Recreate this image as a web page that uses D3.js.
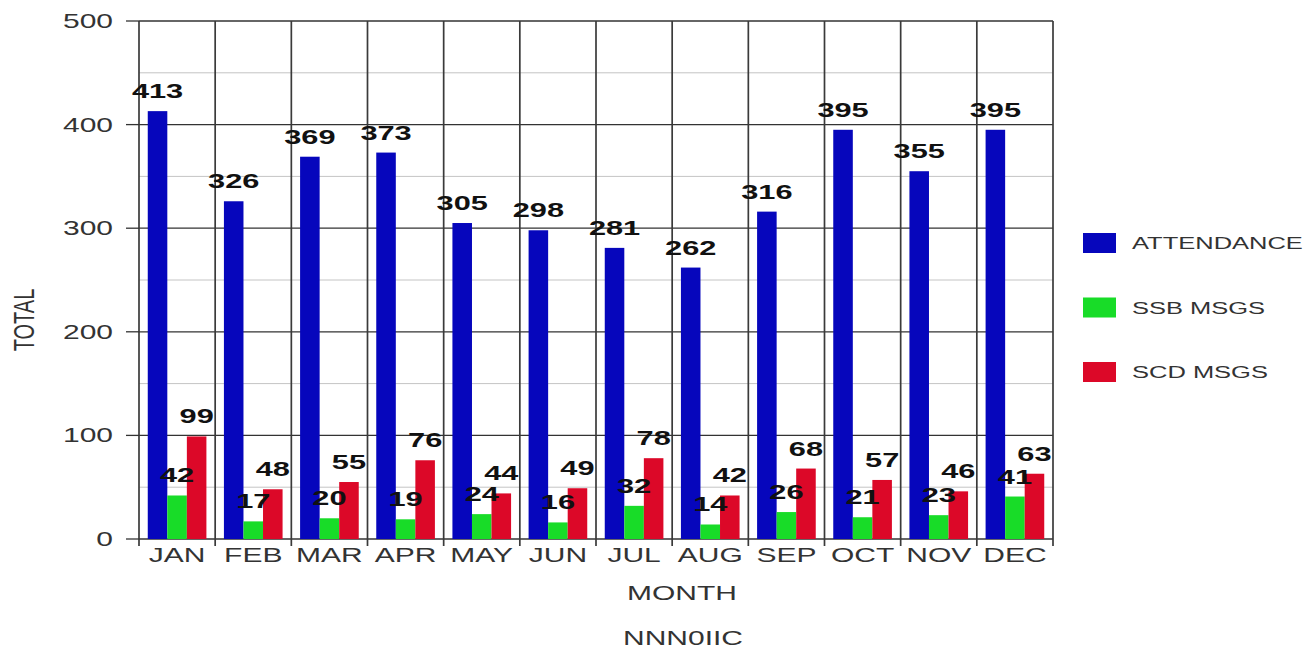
<!DOCTYPE html>
<html>
<head>
<meta charset="utf-8">
<script src="https://cdn.jsdelivr.net/npm/d3@7"></script>
<style>
  html, body { margin: 0; padding: 0; background: #fff; }
  svg { display: block; font-family: "Liberation Sans", Arial, sans-serif; }
</style>
</head>
<body>
<svg id="chart" width="1312" height="650"></svg>
<script>
const months = ["JAN","FEB","MAR","APR","MAY","JUN","JUL","AUG","SEP","OCT","NOV","DEC"];
const seriesNames = ["ATTENDANCE","SSB MSGS","SCD MSGS"];
const attendance = [413,326,369,373,305,298,281,262,316,395,355,395];
const ssbMsgs = [42,17,20,19,24,16,32,14,26,21,23,41];
const scdMsgs = [99,48,55,76,44,49,78,42,68,57,46,63];
const seriesColors = ["#0606bc","#18dc28","#dc0828"];
const yTicks = [0,100,200,300,400,500];
const minorTicks = [50,150,250,350,450];
const xTitle = "MONTH";
const yTitle = "TOTAL";
const caption = "NNN0IIC";

const seriesValues = [attendance, ssbMsgs, scdMsgs];
const SX = 1.5; // horizontal stretch of the original image

const svg = d3.select("#chart");
const pLeft = 139, pRight = 1053, pTop = 21, pBottom = 539;

const x = d3.scaleBand().domain(months).range([pLeft, pRight]).padding(0);
const bw = x.bandwidth();
const x1 = d3.scaleBand().domain(seriesNames).range([bw * 0.115, bw * 0.885]).padding(0);
const y = d3.scaleLinear().domain([0, 500]).range([pBottom, pTop]);

function stext(g, tx, ty, str, opts) {
  const t = g.append("text")
    .attr("transform", `translate(${tx},${ty}) scale(${SX},1)` + (opts.rotate ? ` rotate(${opts.rotate})` : ""))
    .attr("text-anchor", opts.anchor || "middle")
    .attr("font-size", opts.size || 20)
    .attr("font-weight", opts.weight || "normal")
    .attr("fill", opts.fill || "#333")
    .text(str);
  return t;
}

// minor gridlines
svg.append("g").selectAll("line").data(minorTicks).join("line")
  .attr("x1", pLeft).attr("x2", pRight)
  .attr("y1", d => y(d)).attr("y2", d => y(d))
  .attr("stroke", "#c4c4c4").attr("stroke-width", 1);

// major gridlines
svg.append("g").selectAll("line").data(yTicks).join("line")
  .attr("x1", pLeft).attr("x2", pRight)
  .attr("y1", d => y(d)).attr("y2", d => y(d))
  .attr("stroke", "#333").attr("stroke-width", 1.3);

// vertical category boundary lines (with ticks below axis)
const bounds = months.map(m => x(m)).concat([pRight]);
svg.append("g").selectAll("line").data(bounds).join("line")
  .attr("x1", d => d).attr("x2", d => d)
  .attr("y1", pTop).attr("y2", pBottom + 7)
  .attr("stroke", "#3a3a3a").attr("stroke-width", 1.7);

// y ticks
svg.append("g").selectAll("line").data(yTicks).join("line")
  .attr("x1", pLeft - 13).attr("x2", pLeft)
  .attr("y1", d => y(d)).attr("y2", d => y(d))
  .attr("stroke", "#333").attr("stroke-width", 1.3);

// bars
const groups = svg.append("g").selectAll("g").data(months).join("g")
  .attr("transform", d => `translate(${x(d)},0)`);

groups.selectAll("rect").data((m, i) => seriesNames.map((s, k) => ({ s, k, v: seriesValues[k][i] })))
  .join("rect")
  .attr("x", d => x1(d.s))
  .attr("width", x1.bandwidth())
  .attr("y", d => y(d.v))
  .attr("height", d => pBottom - y(d.v))
  .attr("fill", d => seriesColors[d.k]);

// value labels
const labelLayer = svg.append("g");
months.forEach((m, i) => {
  seriesNames.forEach((s, k) => {
    const v = seriesValues[k][i];
    stext(labelLayer, x(m) + x1(s) + x1.bandwidth() / 2, y(v) - 13, String(v),
      { size: 20.5, weight: "bold", fill: "#111" });
  });
});

// y tick labels
const yl = svg.append("g");
yTicks.forEach(t => stext(yl, 113, y(t) + 7, String(t), { anchor: "end", size: 20, fill: "#333" }));

// x tick labels
const xl = svg.append("g");
months.forEach(m => stext(xl, x(m) + bw / 2, 562, m, { size: 20, fill: "#333" }));

// axis titles
stext(svg, 682, 600, xTitle, { size: 20, fill: "#333" });
stext(svg, 683, 645, caption, { size: 20, fill: "#333" });
stext(svg, 34, 320, yTitle, { size: 20, fill: "#333", rotate: -90 });

// legend
const lg = svg.append("g");
seriesNames.forEach((s, k) => {
  const cy = 243 + k * 64.5;
  lg.append("rect").attr("x", 1083).attr("y", cy - 10).attr("width", 33).attr("height", 20)
    .attr("fill", seriesColors[k]);
  stext(lg, 1132, cy + 6, s, { anchor: "start", size: 17, fill: "#333" });
});
</script>
</body>
</html>
